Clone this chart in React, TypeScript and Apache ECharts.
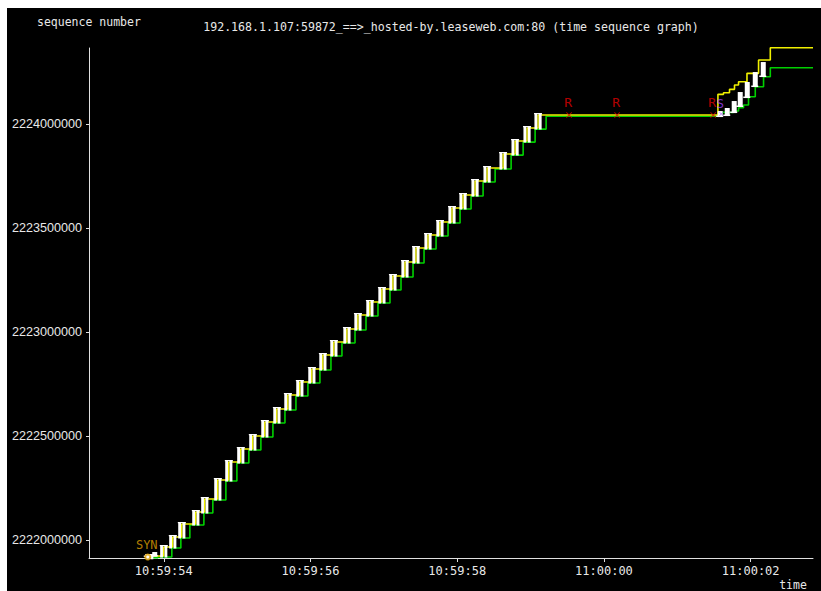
import React, { useEffect, useRef } from "react";
import * as echarts from "echarts";

// time axis: seconds after 10:59:00
const xTicks = [54, 56, 58, 60, 62];
const yTicks = [2222000000, 2222500000, 2223000000, 2223500000, 2224000000];

// main ramp: burst send times and the highest sequence sent in each burst
const mainTimes = [
  53.809, 54.0, 54.123, 54.246, 54.437, 54.559, 54.737, 54.887, 55.05, 55.214,
  55.378, 55.542, 55.692, 55.855, 56.019, 56.169, 56.319, 56.497, 56.647, 56.81,
  56.974, 57.124, 57.288, 57.438, 57.602, 57.765, 57.929, 58.079, 58.243, 58.407,
  58.625, 58.789, 58.952, 59.102,
];
const mainSeqs = [
  2221924500, 2221967800, 2222015900, 2222078400, 2222136100, 2222198600, 2222289900,
  2222376400, 2222438900, 2222501400, 2222568800, 2222631300, 2222698600, 2222761100,
  2222823600, 2222890900, 2222953400, 2223015900, 2223083200, 2223145700, 2223208200,
  2223270700, 2223338000, 2223405300, 2223467800, 2223530300, 2223597600, 2223660100,
  2223727400, 2223789900, 2223857200, 2223919700, 2223982200, 2224044700,
];
const startSeq = 2221916000;
// ack arrival times and acked sequence for each burst (green)
const ackTimes = [
  53.919, 54.11, 54.233, 54.356, 54.547, 54.669, 54.847, 54.997, 55.16, 55.324,
  55.488, 55.652, 55.802, 55.965, 56.129, 56.279, 56.429, 56.607, 56.757, 56.92,
  57.084, 57.234, 57.398, 57.548, 57.712, 57.875, 58.039, 58.189, 58.353, 58.517,
  58.735, 58.899, 59.062, 59.212,
];
const ackSeqs = [
  2221919500, 2221962800, 2222010900, 2222073400, 2222131100, 2222193600, 2222284900,
  2222371400, 2222433900, 2222496400, 2222563800, 2222626300, 2222693600, 2222756100,
  2222818600, 2222885900, 2222948400, 2223010900, 2223078200, 2223140700, 2223203200,
  2223265700, 2223333000, 2223400300, 2223462800, 2223525300, 2223592600, 2223655100,
  2223722400, 2223784900, 2223852200, 2223914700, 2223977200, 2224039200,
];
// extra segments (initial cluster and the final ramp)
const rampTimes = [53.782, 53.877, 61.585, 61.681, 61.776, 61.858, 61.954, 62.063, 62.172];
const rampLows = [2221919700, 2221922000, 2224035100, 2224039900, 2224054300, 2224083200, 2224126400, 2224179300, 2224227400];
const rampHighs = [2221929300, 2221938900, 2224059100, 2224073600, 2224107200, 2224150500, 2224198600, 2224246600, 2224294700];
// window (yellow) after the stall
const winTimes = [61.554, 61.63, 61.712, 61.78, 61.835, 61.95, 62.108, 62.268, 62.85];
const winSeqs = [2224144200, 2224151900, 2224168300, 2224188900, 2224204800, 2224245200, 2224309100, 2224368000, 2224368000];
// acks (green) after the stall
const ackTailTimes = [61.609, 61.767, 61.835, 61.903, 61.971, 62.063, 62.176, 62.268, 62.85];
const ackTailSeqs = [2224057700, 2224063900, 2224079800, 2224092800, 2224132700, 2224180800, 2224228900, 2224272100, 2224272100];
// retransmissions
const retransTimes = [59.525, 60.18, 61.49];
const retransSeq = 2224044700;
const sackTime = 61.6;
const sackSeq = 2224050000;
const synTime = 53.782;
const synSeq = 2221919700;

const fmtTime = (t: number) => {
  const total = 10 * 3600 + 59 * 60 + t;
  const hh = Math.floor(total / 3600);
  const mm = Math.floor((total % 3600) / 60);
  const ss = Math.round(total % 60);
  const p = (n: number) => String(n).padStart(2, "0");
  return `${p(hh)}:${p(mm)}:${p(ss)}`;
};

const XMARK = "path://M0,1L1,0L5,4L9,0L10,1L6,5L10,9L9,10L5,6L1,10L0,9L4,5Z";

export default function App() {
  const ref = useRef<HTMLDivElement>(null);
  useEffect(() => {
    if (!ref.current) return;
    const chart = echarts.init(ref.current, null, { renderer: "svg" });

    const mainBars = mainTimes.map((t, i) => [t, i === 0 ? startSeq : mainSeqs[i - 1], mainSeqs[i]]);
    const rampBars = rampTimes.map((t, i) => [t, rampLows[i], rampHighs[i]]);
    const yellow = [
      ...mainTimes.map((t, i) => [t, mainSeqs[i]]),
      ...winTimes.map((t, i) => [t, winSeqs[i]]),
    ];
    const green = [
      [53.85, startSeq],
      ...ackTimes.map((t, i) => [t, ackSeqs[i]]),
      ...ackTailTimes.map((t, i) => [t, ackTailSeqs[i]]),
    ];

    const axisColor = "#e0e0e0";
    const option: any = {
      animation: false,
      backgroundColor: "#000",
      grid: { left: 82, right: 8, top: 40, bottom: 33 },
      xAxis: {
        type: "value",
        min: 52.981,
        max: 62.85,
        axisLine: { onZero: false, lineStyle: { color: axisColor, width: 1 } },
        axisTick: { customValues: xTicks, length: 4, lineStyle: { color: axisColor } },
        axisLabel: {
          customValues: xTicks,
          formatter: (v: number) => fmtTime(v),
          color: "#e8e8e8",
          fontFamily: "DejaVu Sans Mono",
          fontSize: 12,
          margin: 7,
        },
        splitLine: { show: false },
      },
      yAxis: {
        type: "value",
        min: 2221915000,
        max: 2224367000,
        axisLine: { show: true, onZero: false, lineStyle: { color: axisColor, width: 1 } },
        axisTick: { show: true, customValues: yTicks, length: 3, lineStyle: { color: axisColor } },
        axisLabel: {
          customValues: yTicks,
          formatter: (v: number) => String(Math.round(v)),
          color: "#e8e8e8",
          fontFamily: "Liberation Sans",
          fontSize: 12.6,
          margin: 7,
        },
        splitLine: { show: false },
      },
      graphic: [
        {
          type: "text",
          left: 30,
          top: 8,
          style: { text: "sequence number", fill: "#e8e8e8", font: "11.5px 'DejaVu Sans Mono'" },
        },
        {
          type: "text",
          x: 444,
          y: 19,
          style: {
            text: "192.168.1.107:59872_==>_hosted-by.leaseweb.com:80 (time sequence graph)",
            fill: "#e8e8e8",
            font: "11.6px 'DejaVu Sans Mono'",
            align: "center",
            verticalAlign: "middle",
          },
        },
        {
          type: "text",
          x: 786,
          y: 577,
          style: { text: "time", fill: "#e8e8e8", font: "11.5px 'DejaVu Sans Mono'", align: "center", verticalAlign: "middle" },
        },
      ],
      series: [
        {
          type: "line",
          step: "end",
          data: green,
          showSymbol: false,
          clip: false,
          lineStyle: { color: "#00d000", width: 1.6 },
          z: 1,
        },
        {
          type: "line",
          step: "end",
          data: yellow,
          showSymbol: false,
          clip: false,
          lineStyle: { color: "#f0f000", width: 1.6 },
          z: 2,
        },
        {
          type: "custom",
          data: mainBars,
          z: 3,
          renderItem: (_p: any, api: any) => {
            const t = api.value(0);
            const pLo = api.coord([t, api.value(1)]);
            const pHi = api.coord([t, api.value(2)]);
            const x = pLo[0];
            const yTop = pHi[1] - 2;
            const yBot = pLo[1] + 1.5;
            const h = Math.max(1, yBot - yTop);
            return {
              type: "group",
              children: [
                { type: "rect", shape: { x: x - 3.6, y: yTop, width: 2.8, height: h }, style: { fill: "#fff" } },
                { type: "rect", shape: { x: x + 0.8, y: yTop, width: 2.8, height: h }, style: { fill: "#fff" } },
                { type: "rect", shape: { x: x - 4, y: yTop, width: 8, height: 1.2 }, style: { fill: "#fff" } },
              ],
            };
          },
        },
        {
          type: "custom",
          data: rampBars,
          z: 3,
          renderItem: (_p: any, api: any) => {
            const t = api.value(0);
            const pLo = api.coord([t, api.value(1)]);
            const pHi = api.coord([t, api.value(2)]);
            const x = pLo[0];
            const yTop = pHi[1] - 1;
            const h = Math.max(2, pLo[1] - yTop);
            return {
              type: "group",
              children: [
                { type: "rect", shape: { x: x - 2.5, y: yTop, width: 5, height: h }, style: { fill: "#fff" } },
                { type: "rect", shape: { x: x - 4, y: yTop + h - 1.5, width: 7, height: 1.5 }, style: { fill: "#fff" } },
              ],
            };
          },
        },
        {
          type: "scatter",
          data: retransTimes.map((t) => [t, retransSeq]),
          symbol: XMARK,
          symbolSize: 6,
          itemStyle: { color: "#e00000" },
          z: 5,
          label: {
            show: true,
            formatter: "R",
            position: "inside",
            offset: [-1, -12.5],
            color: "#e00000",
            fontFamily: "DejaVu Sans Mono",
            fontSize: 13,
          },
        },
        {
          type: "scatter",
          data: [[sackTime, sackSeq]],
          symbol: XMARK,
          symbolSize: 4,
          itemStyle: { color: "#a040ff" },
          z: 4,
          label: {
            show: true,
            formatter: "S",
            position: "inside",
            offset: [-1, -10],
            color: "#a040ff",
            fontFamily: "DejaVu Sans Mono",
            fontSize: 12,
          },
        },
        {
          type: "scatter",
          data: [[synTime, synSeq]],
          symbol: "emptyCircle",
          symbolSize: 5,
          itemStyle: { color: "#e0a000", borderColor: "#e0a000", borderWidth: 1 },
          z: 4,
          label: {
            show: true,
            formatter: "SYN",
            position: "inside",
            offset: [-1, -12.5],
            color: "#e0a000",
            fontFamily: "DejaVu Sans Mono",
            fontSize: 12,
          },
        },
      ],
    };
    chart.setOption(option);
    return () => chart.dispose();
  }, []);
  return (
    <div
      ref={ref}
      style={{ position: "fixed", left: 7, top: 8, width: 814, height: 583, background: "#000" }}
    />
  );
}
